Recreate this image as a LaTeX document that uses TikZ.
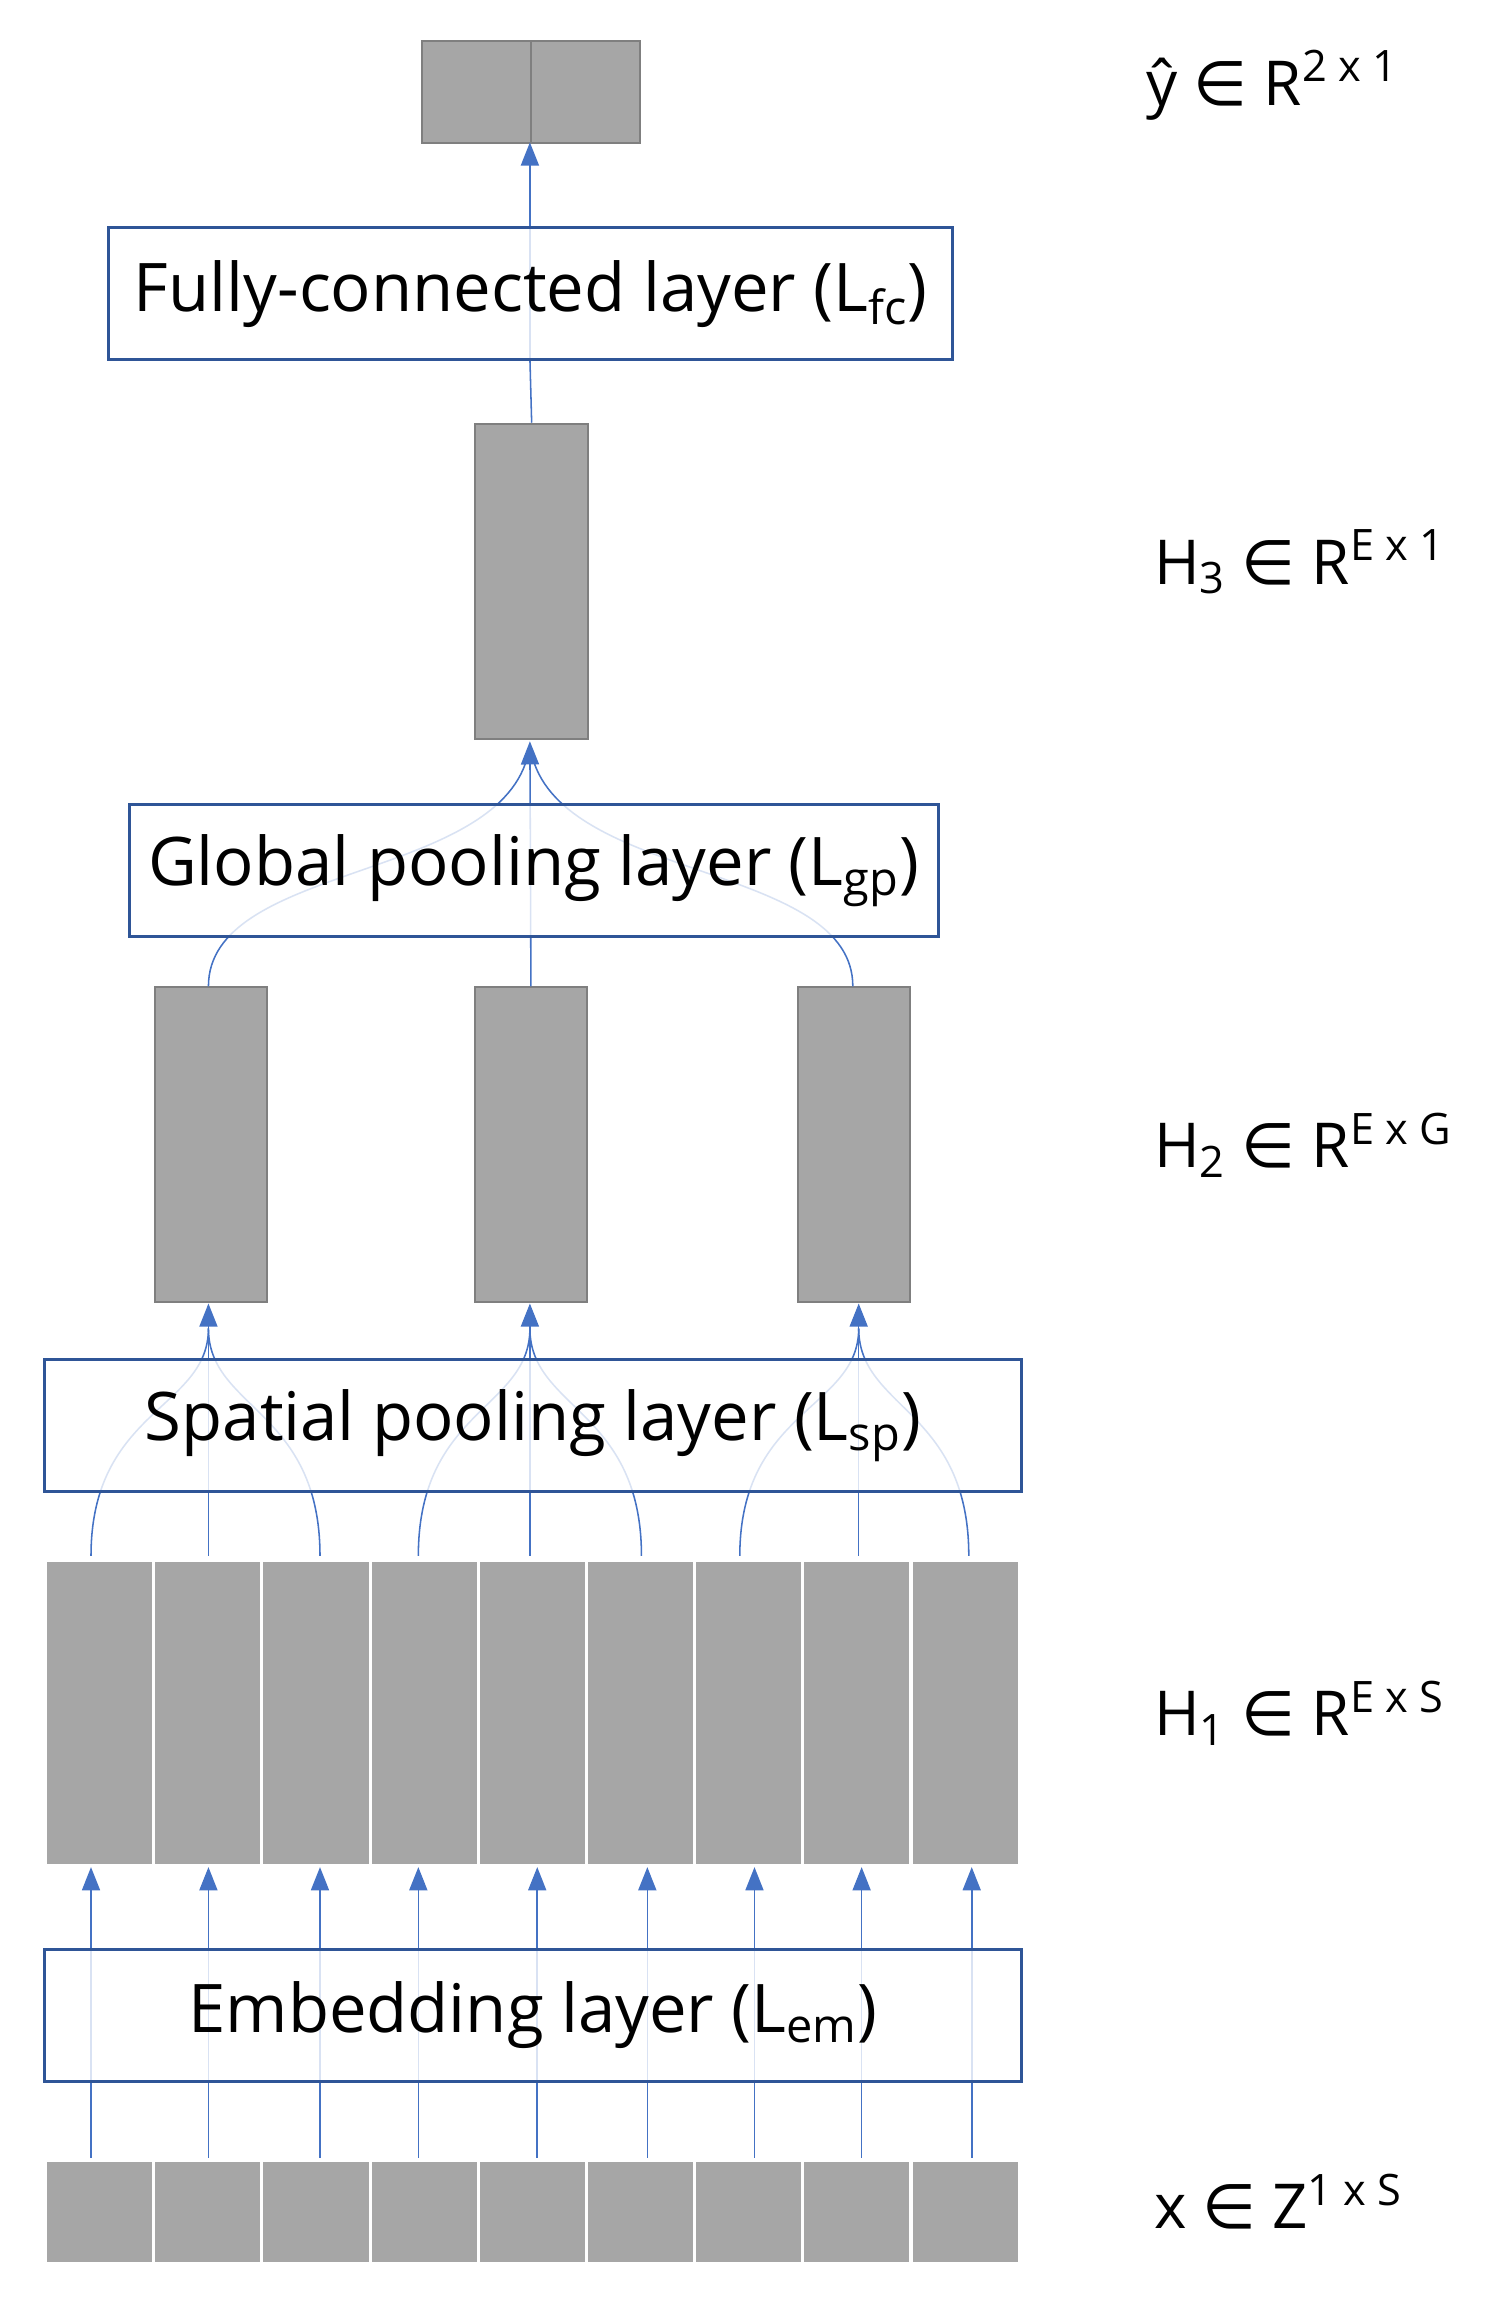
\documentclass[tikz,border=0pt]{standalone}
\usepackage{fontspec}
\setmainfont{Open Sans}
\newfontfamily\symf{DejaVu Sans}
\usetikzlibrary{arrows.meta}
\definecolor{lb}{HTML}{4472C4}
\definecolor{db}{HTML}{2F5597}
\definecolor{gf}{HTML}{A6A6A6}
\definecolor{gb}{HTML}{7F7F7F}
\newcommand{\elem}{{\symf ∈}}
\begin{document}
\begin{tikzpicture}[x=0.02cm,y=-0.02cm,
  cell/.style={draw=gb,fill=gf,line width=0.8pt,inner sep=0,anchor=north west},
  strip/.style={draw=white,fill=gf,line width=1.2pt,inner sep=0,anchor=north west},
  layer/.style={draw=db,fill=white,fill opacity=0.8,line width=1.2pt,inner sep=0,anchor=north west},
  ltext/.style={font=\fontsize{26}{30}\selectfont},
  con/.style={draw=lb,line width=0.6pt},
  arr/.style={con,-{Triangle[length=9pt,width=7pt]}},
  lab/.style={anchor=west,font=\fontsize{24}{28}\selectfont}]
\useasboundingbox (0,0) rectangle (1024,1571);
% top output
\node[cell,minimum width={74*0.02cm},minimum height={70*0.02cm}] (y1) at (287,27) {};
\node[cell,minimum width={74*0.02cm},minimum height={70*0.02cm}] (y2) at (361,27) {};
\coordinate (ybot) at (361,97);
% H3
\node[cell,minimum width={77*0.02cm},minimum height={215*0.02cm}] (h3) at (323,288) {};
% H2
\foreach \i/\x in {1/105,2/323,3/543}
  \node[cell,minimum width={76*0.02cm},minimum height={214*0.02cm}] (h2\i) at (\x,672) {};
% H1 strips
\foreach \i in {1,...,9}
  \node[strip,minimum width={73.7*0.02cm},minimum height={208*0.02cm}] (h1\i) at ({30+(\i-1)*73.7},1062) {};
% x strips
\foreach \i in {1,...,9}
  \node[strip,minimum width={73.7*0.02cm},minimum height={70*0.02cm}] (x\i) at ({30+(\i-1)*73.7},1471) {};
% connectors: embedding
\foreach \i/\xx in {1/62,2/142,3/218,4/285,5/366,6/441,7/514,8/587,9/662}{
  \coordinate (s\i) at (\xx,1470);
  \coordinate (t\i) at (\xx,1272);
  \draw[arr] (s\i) -- (t\i);
}
% spatial pooling connectors
\foreach \g/\a/\b/\c in {1/62/142/218,2/285/361/437,3/504/585/660}{
  \coordinate (p\g) at (\b,888);
  \draw[con] (\a,1060) .. controls (\a,960) and (\b,960) .. (\b,905);
  \draw[con] (\c,1060) .. controls (\c,960) and (\b,960) .. (\b,905);
  \draw[arr] (\b,1060) -- (p\g);
}
% global pooling connectors
\coordinate (q) at (361,505);
\draw[con] (142,672) .. controls (142,590) and (330,600) .. (358,520);
\draw[con] (581,672) .. controls (581,590) and (392,600) .. (364,520);
\draw[arr] (h22.north) -- (q);
% fc connectors
\draw[con] (h3.north) -- (361,244);
\draw[arr] (361,244) -- (ybot);
% layer boxes
\node[layer,minimum width={575*0.02cm},minimum height={90*0.02cm}] (fc) at (73,154) {};
\node[ltext] at (fc.center) {Fully-connected layer (L\textsubscript{fc})};
\node[layer,minimum width={551*0.02cm},minimum height={90*0.02cm}] (gp) at (87,547) {};
\node[ltext] at (gp.center) {Global pooling layer (L\textsubscript{gp})};
\node[layer,minimum width={666*0.02cm},minimum height={90*0.02cm}] (sp) at (29,925) {};
\node[ltext] at (sp.center) {Spatial pooling layer (L\textsubscript{sp})};
\node[layer,minimum width={666*0.02cm},minimum height={90*0.02cm}] (em) at (29,1327) {};
\node[ltext] at (em.center) {Embedding layer (L\textsubscript{em})};
% labels
\node[lab] (ly) at (775,58) {ŷ \elem{} R\textsuperscript{2 x 1}};
\node[lab] (l3) at (780,383) {H\textsubscript{3} \elem{} R\textsuperscript{E x 1}};
\node[lab] (l2) at (780,780) {H\textsubscript{2} \elem{} R\textsuperscript{E x G}};
\node[lab] (l1) at (780,1167) {H\textsubscript{1} \elem{} R\textsuperscript{E x S}};
\node[lab] (lx) at (780,1500) {x \elem{} Z\textsuperscript{1 x S}};
\end{tikzpicture}
\end{document}
